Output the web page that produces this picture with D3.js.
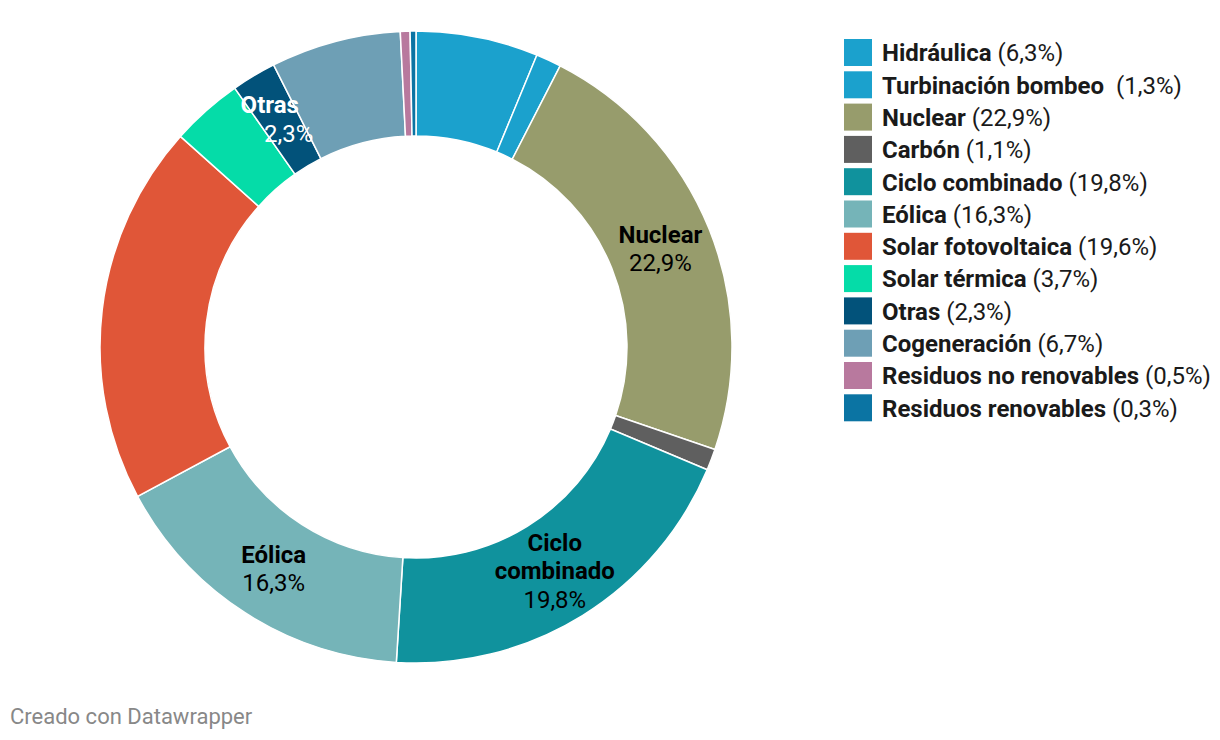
<!DOCTYPE html>
<html><head><meta charset="utf-8">
<script src="https://cdn.jsdelivr.net/npm/d3@7"></script>
<style>body{margin:0;background:#fff;font-family:Roboto,"Noto Sans",sans-serif}</style>
</head><body><svg id="c" width="1220" height="740"></svg>
<script>
const categories = ["Hidráulica","Turbinación bombeo ","Nuclear","Carbón","Ciclo combinado","Eólica","Solar fotovoltaica","Solar térmica","Otras","Cogeneración","Residuos no renovables","Residuos renovables"];
const values = [6.3,1.3,22.9,1.1,19.8,16.3,19.6,3.7,2.3,6.7,0.5,0.3];
const valueLabels = ["6,3%","1,3%","22,9%","1,1%","19,8%","16,3%","19,6%","3,7%","2,3%","6,7%","0,5%","0,3%"];
const colors = ["#1ba1cd","#1ba1cd","#979c6c","#5f5f5f","#10929d","#75b4b8","#e05638","#05dca8","#02527a","#6e9fb5","#b8799e","#0b74a3"];
const sliceLabels = {2:["Nuclear"],4:["Ciclo","combinado"],5:["Eólica"],8:["Otras"]};

const svg = d3.select("#c");
const cx = 416, cy = 347, rO = 316, rI = 211;
const data = categories.map((c,i)=>({name:c,value:values[i],label:valueLabels[i],color:colors[i],i}));
const pie = d3.pie().value(d=>d.value).sort(null);
const arc = d3.arc().innerRadius(rI).outerRadius(rO);
const g = svg.append("g").attr("transform",`translate(${cx},${cy})`);
const arcs = pie(data);
g.selectAll("path").data(arcs).join("path")
  .attr("d",arc).attr("fill",d=>d.data.color)
  .attr("stroke","#fff").attr("stroke-width",1.5);

arcs.forEach(a=>{
  const lines = sliceLabels[a.data.i];
  if(!lines) return;
  let [x,y] = arc.centroid(a);
  const white = a.data.i===8;
  if(white){ x += 8; y -= 2; }
  const all = lines.map(t=>({t,b:true})).concat([{t:a.data.label,b:false}]);
  const lh = 28.5;
  const y0 = y - (all.length-1)*lh/2;
  const t = g.append("text").attr("text-anchor","middle")
    .attr("fill",white?"#fff":"#000").style("font-size","24px");
  all.forEach((l,k)=>{
    t.append("tspan").attr("x", x + (white && l.b ? -19 : 0)).attr("y",y0+k*lh).attr("dy","0.35em")
      .style("font-weight",l.b?"700":"400").text(l.t);
  });
});

const lg = svg.append("g").attr("transform","translate(844,39)");
const row = lg.selectAll("g").data(data).join("g").attr("transform",(d,i)=>`translate(0,${i*32.3})`);
row.append("rect").attr("width",28).attr("height",27).attr("fill",d=>d.color);
const lt = row.append("text").attr("x",38).attr("y",14).attr("dy","0.35em").style("font-size","24px").attr("fill","#1a1a1a");
lt.append("tspan").style("font-weight","700").text(d=>d.name);
lt.append("tspan").style("font-weight","400").text(d=>" ("+d.label+")");
lt.style("white-space","pre");

svg.append("text").attr("x",10).attr("y",724).attr("fill","#888").style("font-size","22px").text("Creado con Datawrapper");
</script></body></html>
